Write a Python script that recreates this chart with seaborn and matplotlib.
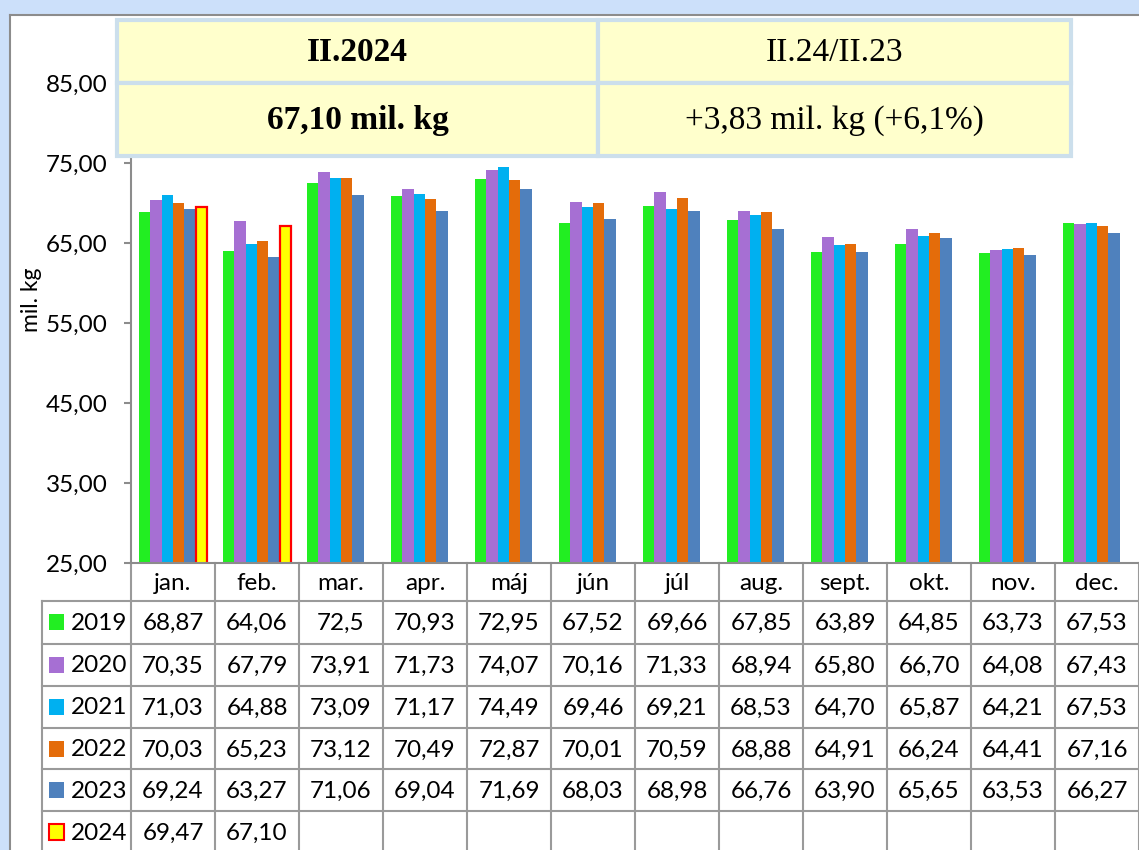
import numpy as np
import pandas as pd
import matplotlib
matplotlib.use("Agg")
import matplotlib.pyplot as plt
import matplotlib.transforms as mtransforms
from matplotlib.patches import Rectangle
from matplotlib.lines import Line2D
import seaborn as sns

# ---------------- data ----------------
months = ["jan.", "feb.", "mar.", "apr.", "máj", "jún", "júl", "aug.", "sept.", "okt.", "nov.", "dec."]
years = ["2019", "2020", "2021", "2022", "2023", "2024"]
v2019 = [68.87, 64.06, 72.5, 70.93, 72.95, 67.52, 69.66, 67.85, 63.89, 64.85, 63.73, 67.53]
v2020 = [70.35, 67.79, 73.91, 71.73, 74.07, 70.16, 71.33, 68.94, 65.80, 66.70, 64.08, 67.43]
v2021 = [71.03, 64.88, 73.09, 71.17, 74.49, 69.46, 69.21, 68.53, 64.70, 65.87, 64.21, 67.53]
v2022 = [70.03, 65.23, 73.12, 70.49, 72.87, 70.01, 70.59, 68.88, 64.91, 66.24, 64.41, 67.16]
v2023 = [69.24, 63.27, 71.06, 69.04, 71.69, 68.03, 68.98, 66.76, 63.90, 65.65, 63.53, 66.27]
v2024 = [69.47, 67.10]
# labels shown in the table (as printed)
t2019 = ["68,87", "64,06", "72,5", "70,93", "72,95", "67,52", "69,66", "67,85", "63,89", "64,85", "63,73", "67,53"]
yticks = [25, 35, 45, 55, 65, 75, 85]
box_texts = ["II.2024", "II.24/II.23", "67,10 mil. kg", "+3,83 mil. kg (+6,1%)"]
ylabel = "mil. kg"

colors = ["#22EE22", "#A66FD3", "#00B0F0", "#E46C0A", "#4F81BD", "#FFFF00"]

series = [v2019, v2020, v2021, v2022, v2023, v2024]
rows = []
for y, vals in zip(years, series):
    for m, v in zip(months, vals):
        rows.append({"month": m, "year": y, "value": v})
df = pd.DataFrame(rows)

def fmt(v):
    return f"{v:.2f}".replace(".", ",")

table_text = []
for y, vals in zip(years, series):
    if y == "2019":
        table_text.append(t2019)
    else:
        table_text.append([fmt(v) for v in vals] + [""] * (12 - len(vals)))

# ---------------- figure ----------------
W, H = 1139, 850
fig = plt.figure(figsize=(W / 100, H / 100), dpi=100)
fig.patch.set_facecolor("#CCE0FA")
FONT = ["Lato", "DejaVu Sans"]
SERIF = ["Liberation Serif", "DejaVu Serif"]
FS = 17.5

def fx(px):
    return px / W

def fy(py):
    return 1 - py / H

# white chart area
fig.patches.append(Rectangle((fx(10), 0), 1 - fx(10), fy(15), transform=fig.transFigure,
                             facecolor="white", edgecolor="none", zorder=-5))
fig.add_artist(Line2D([fx(10), 1], [fy(15), fy(15)], transform=fig.transFigure, color="#8C8C8C", lw=1.5, zorder=-4))
fig.add_artist(Line2D([fx(10), fx(10)], [0, fy(15)], transform=fig.transFigure, color="#8C8C8C", lw=1.5, zorder=-4))

ax_left, ax_bottom = fx(131), fy(563)
ax = fig.add_axes([ax_left, ax_bottom, 1 - ax_left, fy(83) - ax_bottom])
ax.set_facecolor("none")

sns.barplot(data=df, x="month", y="value", hue="year", order=months, hue_order=years,
            palette=colors, width=0.82, saturation=1, ax=ax, legend=False, edgecolor="none")
for p in ax.containers[5]:
    p.set_edgecolor("#FF0000")
    p.set_linewidth(1.6)

ax.set_xlim(-0.5, 11.5)
ax.set_ylim(25, 85)
ax.set_yticks(yticks)
ax.set_yticklabels([f"{t},00" for t in yticks], fontfamily=FONT, fontsize=FS)
ax.tick_params(axis="y", length=5, width=1.5, color="#8C8C8C", pad=12)
ax.tick_params(axis="x", length=0, labelbottom=False)
ax.set_xlabel("")
ax.set_ylabel("")
for s in ["top", "right"]:
    ax.spines[s].set_visible(False)
for s in ["left", "bottom"]:
    ax.spines[s].set_color("#8C8C8C")
    ax.spines[s].set_linewidth(1.5)
ax.grid(False)

fig.text(fx(32), fy(300), ylabel, rotation=90, ha="center", va="center", fontsize=16.5, family=FONT)

# ---------------- data table ----------------
blend = mtransforms.blended_transform_factory(ax.transData, fig.transFigure)
line_col = "#9A9A9A"
row_lines = [601, 644, 686, 728, 769, 811]
row_h = 42
for k in range(13):
    ax.add_line(Line2D([k - 0.5, k - 0.5], [0, fy(563)], transform=blend, color=line_col, lw=1.5, clip_on=False))
fig.add_artist(Line2D([fx(42), fx(42)], [0, fy(row_lines[0])], transform=fig.transFigure, color=line_col, lw=1.5))
for ry in row_lines:
    fig.add_artist(Line2D([fx(42), 1], [fy(ry), fy(ry)], transform=fig.transFigure, color=line_col, lw=1.5))

for i, m in enumerate(months):
    ax.text(i, fy(584), m, transform=blend, ha="center", va="center", fontsize=FS, family=FONT, clip_on=False)

for r, (y, txts) in enumerate(zip(years, table_text)):
    cy = row_lines[r] + row_h / 2
    fig.patches.append(Rectangle((fx(49), fy(cy + 8)), fx(64) - fx(49), fy(cy - 8) - fy(cy + 8),
                                 transform=fig.transFigure, facecolor=colors[r],
                                 edgecolor="#FF0000" if y == "2024" else "none", lw=1.5, zorder=3))
    fig.text(fx(71), fy(cy + 1), y, ha="left", va="center", fontsize=FS, family=FONT)
    for i, t in enumerate(txts):
        if t:
            ax.text(i, fy(cy + 1), t, transform=blend, ha="center", va="center", fontsize=FS,
                    family=FONT, clip_on=False)

# ---------------- summary box ----------------
bx0, bx1, bxm = 117, 1071, 598
by0, by1, bym = 20, 156, 83
cells = [(bx0, by0, bxm, bym), (bxm, by0, bx1, bym), (bx0, bym, bxm, by1), (bxm, bym, bx1, by1)]
for (x0, y0, x1, y1), txt, bold in zip(cells, box_texts, [True, False, True, False]):
    fig.patches.append(Rectangle((fx(x0), fy(y1)), fx(x1) - fx(x0), fy(y0) - fy(y1), transform=fig.transFigure,
                                 facecolor="#FFFFCC", edgecolor="#CCDFEC", lw=3, zorder=5))
    fig.text(fx((x0 + x1) / 2), fy((y0 + y1) / 2 + 1), txt, ha="center", va="center", fontsize=24,
             family=SERIF, fontweight="bold" if bold else "normal", zorder=6)

fig.savefig("out.png", dpi=100, facecolor=fig.get_facecolor())
